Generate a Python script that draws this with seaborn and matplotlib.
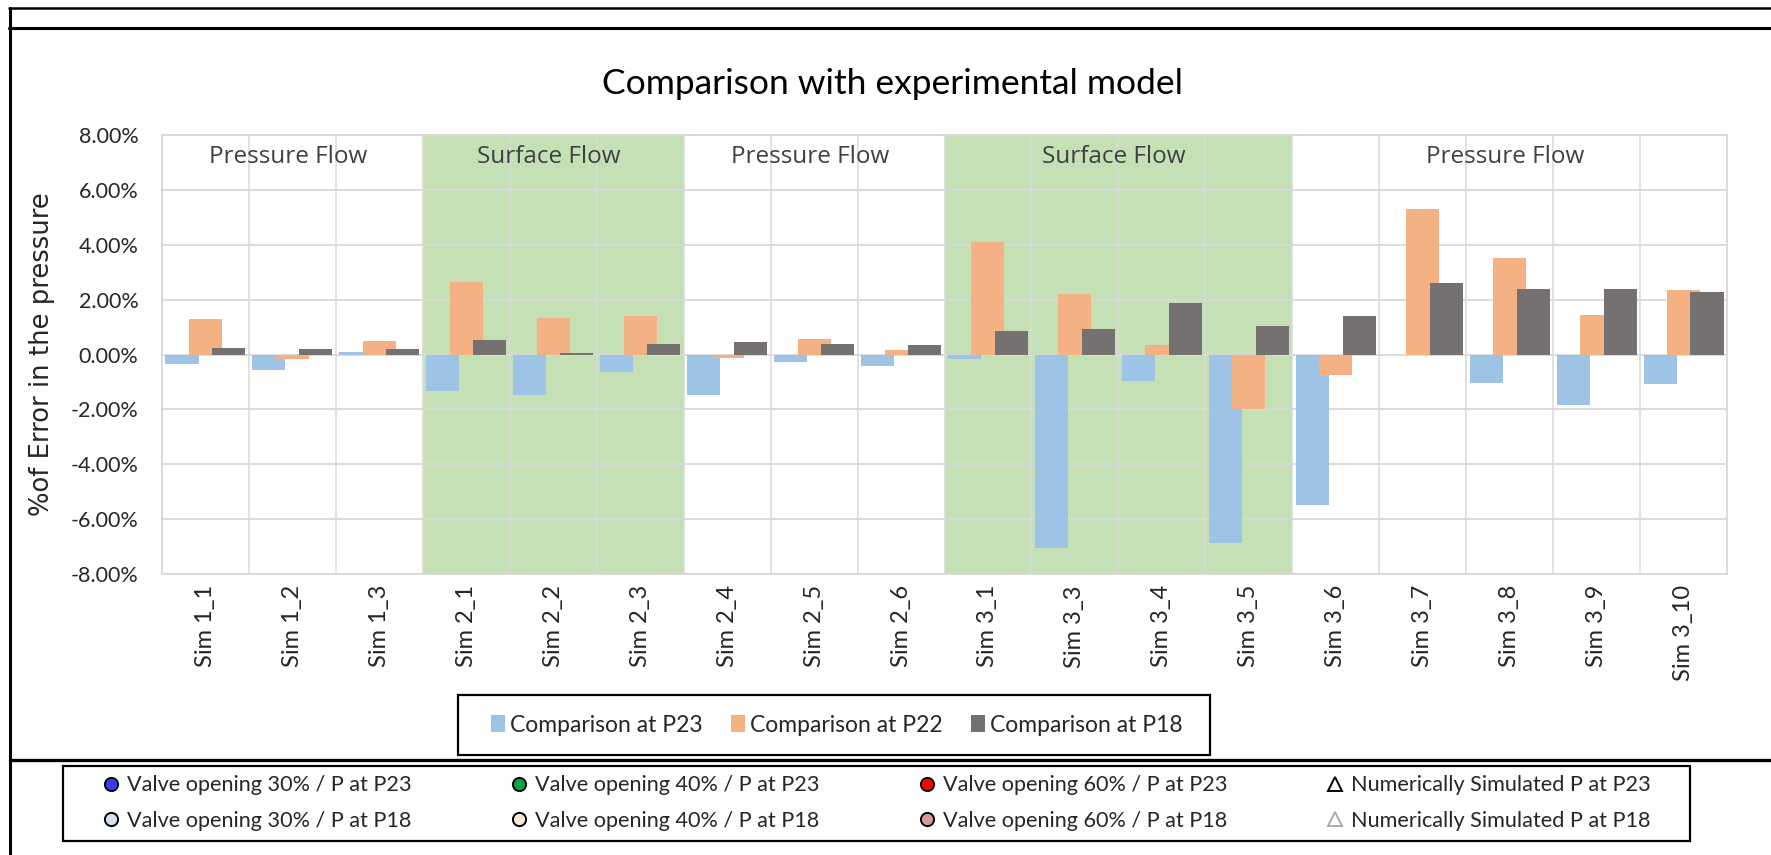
import matplotlib
matplotlib.use("Agg")
import matplotlib.pyplot as plt
from matplotlib.lines import Line2D
from matplotlib.patches import Patch, Rectangle
import numpy as np
import pandas as pd
import seaborn as sns

# ---------------- data ----------------
categories = ["Sim 1_1", "Sim 1_2", "Sim 1_3", "Sim 2_1", "Sim 2_2", "Sim 2_3",
              "Sim 2_4", "Sim 2_5", "Sim 2_6", "Sim 3_1", "Sim 3_3", "Sim 3_4",
              "Sim 3_5", "Sim 3_6", "Sim 3_7", "Sim 3_8", "Sim 3_9", "Sim 3_10"]
p23_error = [-0.35, -0.57, 0.10, -1.32, -1.49, -0.64, -1.47, -0.29, -0.41,
             -0.18, -7.04, -0.97, -6.86, -5.48, 0.00, -1.04, -1.85, -1.07]
p22_error = [1.30, -0.18, 0.51, 2.65, 1.33, 1.42, -0.13, 0.55, 0.17,
             4.10, 2.21, 0.36, -2.00, -0.74, 5.31, 3.53, 1.43, 2.35]
p18_error = [0.24, 0.19, 0.19, 0.53, 0.05, 0.38, 0.45, 0.38, 0.36,
             0.87, 0.93, 1.87, 1.03, 1.41, 2.61, 2.40, 2.39, 2.29]
series_names = ["Comparison at P23", "Comparison at P22", "Comparison at P18"]
y_ticks = [-8, -6, -4, -2, 0, 2, 4, 6, 8]
region_names = ["Pressure Flow", "Surface Flow", "Pressure Flow", "Surface Flow", "Pressure Flow"]
region_first = [0, 3, 6, 9, 13]
region_last = [2, 5, 8, 12, 17]
marker_labels = ["Valve opening 30% / P at P23", "Valve opening 30% / P at P18",
                 "Valve opening 40% / P at P23", "Valve opening 40% / P at P18",
                 "Valve opening 60% / P at P23", "Valve opening 60% / P at P18",
                 "Numerically Simulated P at P23", "Numerically Simulated P at P18"]

# ---------------- styling ----------------
series_colors = ["#9DC3E6", "#F4B183", "#767171"]
series_offsets = [-0.27, 0.0, 0.27]
bar_width = 0.38
green = "#C5E0B4"
grid_col = "#D9D9D9"

sns.set_style("white")
plt.rcParams["font.family"] = ["Lato", "DejaVu Sans"]

W, H = 1771, 855
fig = plt.figure(figsize=(W / 100, H / 100), dpi=100)


def fx(px):
    return px / W


def fy(py):
    return 1 - py / H


ax = fig.add_axes([fx(162), fy(574), fx(1727) - fx(162), fy(135) - fy(574)])

idx = np.arange(len(categories))
for vals, col, off in zip([p23_error, p22_error, p18_error], series_colors, series_offsets):
    df = pd.DataFrame({"pos": idx + off, "err": vals})
    sns.barplot(data=df, x="pos", y="err", native_scale=True, orient="x",
                width=bar_width, color=col, saturation=1, linewidth=0,
                errorbar=None, ax=ax, zorder=2)

# shaded surface-flow regions
for name, a, b in zip(region_names, region_first, region_last):
    if name == "Surface Flow":
        ax.axvspan(a - 0.5, b + 0.5, color=green, zorder=0.2, lw=0)
    ax.text((a + b) / 2 - 0.05, 7.2, name, ha="center", va="center",
            fontsize=17.5, color="#404040", family=["Open Sans", "DejaVu Sans"], zorder=3)

ax.set_xlim(-0.5, len(categories) - 0.5)
ax.set_ylim(-8, 8)
ax.set_xticks(idx)
ax.set_xticklabels(categories, rotation=90, fontsize=17, family=["Lato", "DejaVu Sans"])
ax.set_xticks(np.arange(-0.5, len(categories), 1), minor=True)
ax.set_yticks(y_ticks)
ax.set_yticklabels([f"{v:.2f}%" for v in y_ticks], fontsize=15.5)
ax.tick_params(axis="both", which="both", length=0)
ax.tick_params(axis="x", pad=8)
ax.tick_params(axis="y", pad=17)
ax.set_axisbelow(True)
ax.grid(which="major", axis="y", color=grid_col, lw=1.3)
ax.grid(which="minor", axis="x", color=grid_col, lw=1.1)
ax.grid(which="major", axis="x", visible=False)
for s in ax.spines.values():
    s.set_color(grid_col)
    s.set_linewidth(1.3)
ax.set_xlabel("")
ax.set_ylabel("%of Error in the pressure", fontsize=18.6, family=["DejaVu Sans"])
ax.yaxis.set_label_coords((55 - 162) / 1565, 0.5)

fig.text(fx(893), fy(84), "Comparison with experimental model", ha="center", va="center",
         fontsize=25.5, color="black")

# ---------------- outer frame lines ----------------
fig.add_artist(Line2D([fx(9), 1], [fy(8), fy(8)], color="black", lw=1.8, transform=fig.transFigure))
fig.add_artist(Line2D([fx(9), 1], [fy(28), fy(28)], color="black", lw=2.2, transform=fig.transFigure))
fig.add_artist(Line2D([fx(10), fx(10)], [fy(8), 0], color="black", lw=2.2, transform=fig.transFigure))
fig.add_artist(Line2D([fx(10), 1], [fy(760), fy(760)], color="black", lw=2.4, transform=fig.transFigure))

# ---------------- series legend ----------------
fig.add_artist(Rectangle((fx(458), fy(755)), fx(1210) - fx(458), fy(695) - fy(755),
                         transform=fig.transFigure, fill=False, ec="black", lw=1.6))
handles = [Patch(facecolor=c, edgecolor="none") for c in series_colors]
fig.legend(handles, series_names, loc="center left", bbox_to_anchor=(fx(491), fy(725)),
           ncol=3, frameon=False, fontsize=16.5, handlelength=0.6, handleheight=0.7,
           handletextpad=0.22, columnspacing=1.25, borderpad=0, borderaxespad=0)

# ---------------- marker legend ----------------
fig.add_artist(Rectangle((fx(63), fy(841)), fx(1690) - fx(63), fy(766) - fy(841),
                         transform=fig.transFigure, fill=False, ec="black", lw=1.6))
mk_face = ["#3C3CFF", "#D6E0EE", "#00A550", "#FBE8D5", "#FF0000", "#D49A94", "white", "white"]
mk_edge = ["black", "black", "black", "black", "black", "black", "black", "#AAAAAA"]
mk_shape = ["o", "o", "o", "o", "o", "o", "^", "^"]
mhandles = [Line2D([], [], marker=m, linestyle="none", markerfacecolor=f, markeredgecolor=e,
                   markersize=9.5, markeredgewidth=1.4)
            for m, f, e in zip(mk_shape, mk_face, mk_edge)]
fig.legend(mhandles, marker_labels, loc="center left", bbox_to_anchor=(fx(100), fy(803)),
           ncol=4, frameon=False, fontsize=15.6, handlelength=1.0, handletextpad=0.25,
           columnspacing=4.45, labelspacing=0.7, borderpad=0, borderaxespad=0)

fig.savefig("out.png", dpi=100)
